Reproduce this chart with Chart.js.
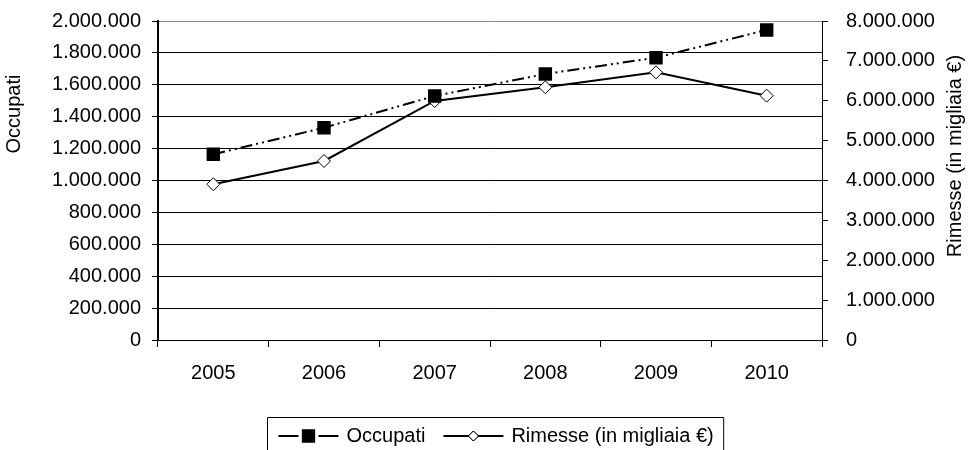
<!DOCTYPE html>
<html>
<head>
<meta charset="utf-8">
<script src="https://cdn.jsdelivr.net/npm/chart.js@4/dist/chart.umd.min.js"></script>
<style>
    body { margin: 0; background: #fff; }
    .wrap { width: 968px; height: 450px; }
</style>
</head>
<body>
<div class="wrap"><canvas id="myChart" width="968" height="450"></canvas></div>
<script>
var years = ['2005', '2006', '2007', '2008', '2009', '2010'];
var occupati = [1164000, 1331000, 1530000, 1668000, 1770000, 1944000];
var rimesse = [3905000, 4489000, 5994000, 6337000, 6713000, 6127000];
var occupatiLabel = 'Occupati';
var rimesseLabel = 'Rimesse (in migliaia €)';

var FONT = "'Liberation Sans', Arial, sans-serif";
var FS = 20;
Chart.defaults.font.family = FONT;
Chart.defaults.font.size = FS;
Chart.defaults.color = '#000';

// 2000000 -> 2.000.000
function dots(v) {
    return String(v).replace(/\B(?=(\d{3})+(?!\d))/g, '.');
}

function vTitle(c, text, x, y) {
    c.save();
    c.font = FS + 'px ' + FONT;
    c.fillStyle = '#000';
    c.textAlign = 'center';
    c.textBaseline = 'middle';
    c.translate(x, y);
    c.rotate(-Math.PI / 2);
    c.fillText(text, 0, 0);
    c.restore();
}

// rotated axis titles, a bit above the middle like the original sheet
var axisTitles = {
    id: 'axisTitles',
    afterDraw: function (chart) {
        vTitle(chart.ctx, occupatiLabel, 14, 114);
        vTitle(chart.ctx, rimesseLabel, 955, 156);
    }
};

// legend with line + marker sample, boxed, under the axis
var boxLegend = {
    id: 'boxLegend',
    afterDraw: function (chart) {
        var c = chart.ctx;
        var ds = chart.data.datasets;
        c.save();
        c.font = FS + 'px ' + FONT;
        var w0 = c.measureText(ds[0].label).width;
        var w1 = c.measureText(ds[1].label).width;
        var sample = 60;
        var boxW = 11 + sample + 8 + w0 + 18 + sample + 8 + w1 + 10;
        var left = Math.round(495 - boxW / 2) + 0.5;
        var top = 417.5;
        var cy = 436;
        c.strokeStyle = '#000';
        c.lineWidth = 1;
        c.beginPath();
        c.moveTo(left, 460);
        c.lineTo(left, top);
        c.lineTo(left + boxW, top);
        c.lineTo(left + boxW, 460);
        c.stroke();

        var x = left + 11;
        // Occupati: dashes either side of a black square
        c.lineWidth = 2;
        c.beginPath();
        c.moveTo(x, cy); c.lineTo(x + 20, cy);
        c.moveTo(x + 40, cy); c.lineTo(x + sample, cy);
        c.stroke();
        Chart.helpers.drawPoint(c, { pointStyle: 'rect', radius: 8, borderWidth: 1 }, x + sample / 2, cy);
        c.fillStyle = '#000';
        c.fill();
        c.textBaseline = 'middle';
        c.fillText(ds[0].label, x + sample + 8, cy);

        x = x + sample + 8 + w0 + 18;
        c.lineWidth = 2;
        c.beginPath();
        c.moveTo(x, cy); c.lineTo(x + sample, cy);
        c.stroke();
        c.lineWidth = 1;
        c.fillStyle = '#fff';
        Chart.helpers.drawPoint(c, { pointStyle: 'rectRot', radius: 5, borderWidth: 1 }, x + sample / 2, cy);
        c.fill();
        c.stroke();
        c.fillStyle = '#000';
        c.fillText(ds[1].label, x + sample + 8, cy);
        c.restore();
    }
};

// fixed axis width, and no extra room reserved above/below for the end labels
function fixWidth(w) {
    return function (s) {
        s.width = w;
        s.paddingTop = 0;
        s.paddingBottom = 0;
    };
}

const ctx = document.getElementById('myChart').getContext('2d');
const myChart = new Chart(ctx, {
    type: 'line',
    data: {
        labels: years,
        datasets: [{
            label: occupatiLabel,
            data: occupati,
            yAxisID: 'y',
            borderColor: '#000',
            backgroundColor: '#000',
            borderWidth: 2,
            borderDash: [12, 4, 2, 4, 2, 4],
            pointStyle: 'rect',
            pointRadius: 9.5,
            pointBorderWidth: 0,
            pointBackgroundColor: '#000',
            tension: 0
        }, {
            label: rimesseLabel,
            data: rimesse,
            yAxisID: 'y1',
            borderColor: '#000',
            backgroundColor: '#fff',
            borderWidth: 2,
            pointStyle: 'rectRot',
            pointRadius: 6.5,
            pointBorderWidth: 1,
            pointBackgroundColor: '#fff',
            pointBorderColor: '#000',
            tension: 0
        }]
    },
    options: {
        responsive: false,
        animation: false,
        events: [],
        layout: { padding: { top: 21, bottom: 0, left: 0, right: 0 } },
        plugins: {
            legend: { display: false },
            tooltip: { enabled: false }
        },
        scales: {
            x: {
                offset: true,
                grid: {
                    offset: true,
                    drawOnChartArea: false,
                    drawTicks: true,
                    tickLength: 7,
                    color: '#000'
                },
                border: { color: '#000', width: 1 },
                ticks: { padding: 14, maxRotation: 0 },
                afterFit: function (s) { s.height = 110; }
            },
            y: {
                position: 'left',
                min: 0,
                max: 2000000,
                grid: {
                    color: function (c) { return c.tick && c.tick.value === 2000000 ? '#8a8a8a' : '#000'; },
                    tickColor: '#000',
                    tickLength: 6
                },
                border: { color: '#000', width: 2 },
                ticks: {
                    stepSize: 200000,
                    padding: 11,
                    callback: function (v) { return dots(v); }
                },
                afterFit: fixWidth(158)
            },
            y1: {
                position: 'right',
                min: 0,
                max: 8000000,
                grid: {
                    drawOnChartArea: false,
                    color: '#000',
                    tickLength: 6
                },
                border: { color: '#000', width: 1 },
                ticks: {
                    stepSize: 1000000,
                    padding: 18,
                    callback: function (v) { return dots(v); }
                },
                afterFit: fixWidth(146)
            }
        }
    },
    plugins: [axisTitles, boxLegend]
});
</script>
</body>
</html>
